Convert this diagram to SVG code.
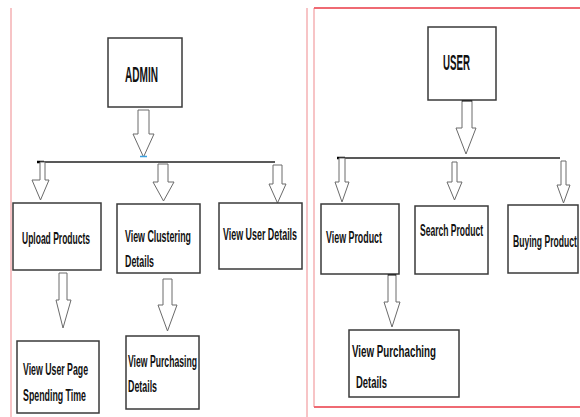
<svg xmlns="http://www.w3.org/2000/svg" width="580" height="417" viewBox="0 0 580 417">
<defs>
<style>
.box{fill:#fff;stroke:#3a3a3a;stroke-width:1.5}
.arr{fill:#fff;stroke:#6a6a6a;stroke-width:1}
.bus{stroke:#222;stroke-width:1.4;fill:none}
.t{font-family:"Liberation Sans",Arial,sans-serif;font-weight:bold;font-size:17px;fill:#111}
.h{font-size:22px}
.pale{stroke:#f7c4c6;stroke-width:2;fill:none}
.red{stroke:#ef6a73;stroke-width:2;fill:none}
</style>
</defs>
<rect width="580" height="417" fill="#fff"/>
<g id="frames">
<line class="pale" x1="11" y1="8" x2="11" y2="417"/>
<line class="pale" x1="307" y1="8" x2="307" y2="417"/>
<line class="pale" x1="314" y1="8" x2="314" y2="407"/>
<line class="red" x1="314" y1="8" x2="580" y2="8"/>
<line class="red" x1="314" y1="407" x2="580" y2="407"/>
</g>
<g id="connectors">
<polyline class="bus" points="37,162 275,162"/>
<line x1="37" y1="162" x2="44" y2="162" stroke="#000" stroke-width="2.5"/>
<polyline class="bus" points="337,158 560,158"/>
<line x1="337" y1="158" x2="345" y2="158" stroke="#000" stroke-width="2.5"/>
<polygon class="arr" points="138,110 149,110 149,134 154,134 143.5,157 133,134 138,134"/>
<line x1="140" y1="156.5" x2="147" y2="156.5" stroke="#3aa0e0" stroke-width="1.5"/>
<polygon class="arr" points="40,162 45,162 45,180 49,180 40.5,200 32,180 40,180"/>
<polygon class="arr" points="158,164 168,164 168,182 174,182 163.5,201 153,182 158,182"/>
<polygon class="arr" points="273,165 282,165 282,184 286,184 277.5,203 269,184 273,184"/>
<polygon class="arr" points="59,273 67,273 67,300 71,300 63,328 56,300 59,300"/>
<polygon class="arr" points="163,279 172,279 172,305 177,305 167.5,331 158,305 163,305"/>
<polygon class="arr" points="462,100 472,100 472,128 476,128 466,154 456,128 462,128"/>
<polygon class="arr" points="339,158 345,158 345,182 349,182 342,202 335,182 339,182"/>
<polygon class="arr" points="452,162 457,162 457,182 462,182 454.5,200 447,182 452,182"/>
<polygon class="arr" points="561,161 566,161 566,185 570,185 563.5,203 557,185 561,185"/>
<polygon class="arr" points="388,274 396,274 396,302 400,302 392,327 384,302 388,302"/>
<line x1="388" y1="274.5" x2="396" y2="274.5" stroke="#000" stroke-width="2"/>
<line x1="462" y1="100.5" x2="472" y2="100.5" stroke="#000" stroke-width="2"/>
</g>
<g id="admin">
<rect class="box" x="108" y="38" width="74" height="69"/>
<text class="t h" transform="translate(125,82) scale(0.458,1)" textLength="72" lengthAdjust="spacingAndGlyphs">ADMIN</text>
</g>
<g id="upload-products">
<rect class="box" x="13" y="203" width="88" height="67"/>
<text class="t" transform="translate(22,244) scale(0.5,1)" textLength="136" lengthAdjust="spacingAndGlyphs">Upload Products</text>
</g>
<g id="view-clustering-details">
<rect class="box" x="117" y="204" width="83" height="69"/>
<text class="t" transform="translate(125,242) scale(0.518,1)" textLength="127.4" lengthAdjust="spacingAndGlyphs">View Clustering</text>
<text class="t" transform="translate(125,267) scale(0.52,1)" textLength="55.8" lengthAdjust="spacingAndGlyphs">Details</text>
</g>
<g id="view-user-details">
<rect class="box" x="219" y="203" width="83" height="66"/>
<text class="t" transform="translate(223,240) scale(0.522,1)" textLength="141.8" lengthAdjust="spacingAndGlyphs">View User Details</text>
</g>
<g id="view-user-page-spending-time">
<rect class="box" x="17" y="341" width="82" height="72"/>
<text class="t" transform="translate(23,375) scale(0.513,1)" textLength="126.7" lengthAdjust="spacingAndGlyphs">View User Page</text>
<text class="t" transform="translate(23,401) scale(0.517,1)" textLength="121.9" lengthAdjust="spacingAndGlyphs">Spending Time</text>
</g>
<g id="view-purchasing-details">
<rect class="box" x="126" y="336" width="73" height="73"/>
<text class="t" transform="translate(128,367) scale(0.507,1)" textLength="136.1" lengthAdjust="spacingAndGlyphs">View Purchasing</text>
<text class="t" transform="translate(128,392) scale(0.52,1)" textLength="55.8" lengthAdjust="spacingAndGlyphs">Details</text>
</g>
<g id="user">
<rect class="box" x="428" y="27" width="68" height="73"/>
<text class="t h" transform="translate(443,70) scale(0.442,1)" textLength="61.1" lengthAdjust="spacingAndGlyphs">USER</text>
</g>
<g id="view-product">
<rect class="box" x="321" y="204" width="78" height="70"/>
<text class="t" transform="translate(326,243) scale(0.52,1)" textLength="107.7" lengthAdjust="spacingAndGlyphs">View Product</text>
</g>
<g id="search-product">
<rect class="box" x="415" y="206" width="73" height="68"/>
<text class="t" transform="translate(420,236) scale(0.5,1)" textLength="126" lengthAdjust="spacingAndGlyphs">Search Product</text>
</g>
<g id="buying-product">
<rect class="box" x="508" y="205" width="70" height="68"/>
<text class="t" transform="translate(513,247) scale(0.505,1)" textLength="126.7" lengthAdjust="spacingAndGlyphs">Buying Product</text>
</g>
<g id="view-purchaching-details">
<rect class="box" x="349" y="330" width="110" height="67"/>
<text class="t" transform="translate(352,357) scale(0.556,1)" textLength="151.1" lengthAdjust="spacingAndGlyphs">View  Purchaching</text>
<text class="t" transform="translate(356,388) scale(0.52,1)" textLength="59.6" lengthAdjust="spacingAndGlyphs">Details</text>
</g>
</svg>
